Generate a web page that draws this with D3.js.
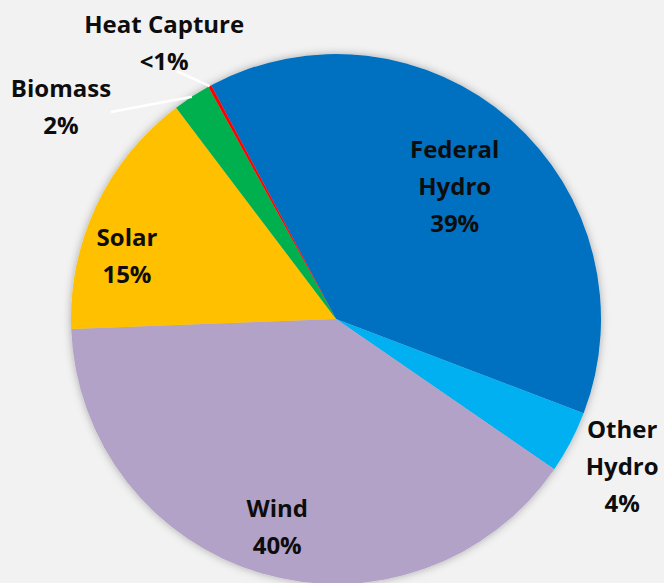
<!DOCTYPE html>
<html>
<head>
<meta charset="utf-8">
<script src="https://cdn.jsdelivr.net/npm/d3@7"></script>
<style>
  body { margin: 0; background: #f2f2f2; }
  svg { display: block; }
  .lbl { font-family: "Open Sans", sans-serif; font-weight: bold; font-size: 24px; fill: #0d0d0d; }
</style>
</head>
<body>
<div id="chart"></div>
<script>
// data, clockwise from Federal Hydro
let sources = ["Federal Hydro", "Other Hydro", "Wind", "Solar", "Biomass", "Heat Capture"];
let shares = [38.6, 3.8, 39.8, 15.3, 2.3, 0.2];
let shareLabels = ["39%", "4%", "40%", "15%", "2%", "<1%"];
let labelLines = [["Federal", "Hydro"], ["Other", "Hydro"], ["Wind"], ["Solar"], ["Biomass"], ["Heat Capture"]];
let colors = ["#0070c0", "#00b0f0", "#b3a2c7", "#ffc000", "#00b050", "#ff0000"];

let w = 664, h = 583;
let cx = 336, cy = 319, radius = 265;
let startDeg = -28.1;

// label placement: [radius factor, angle in degrees]
let labelPolar = {
    "Federal Hydro": [0.672, 41.8],
    "Other Hydro": [1.214, 117.2],
    "Wind": [0.815, 195.8],
    "Solar": [0.824, 286.8],
    "Biomass": [1.31, -52.4],
    "Heat Capture": [1.227, -31.9]
};
// leader line label-side end
let leaderPolar = {
    "Biomass": [1.154, -47.4],
    "Heat Capture": [1.112, -32.7]
};

let lineH = 37, capH = 17;

let svg = d3.select("#chart")
    .append("svg")
    .attr("width", w)
    .attr("height", h);

svg.append("rect").attr("width", w).attr("height", h).attr("fill", "#f2f2f2");

let defs = svg.append("defs");
let f = defs.append("filter").attr("id", "glow")
    .attr("x", "-10%").attr("y", "-10%").attr("width", "120%").attr("height", "120%");
f.append("feDropShadow")
    .attr("dx", 0).attr("dy", 0)
    .attr("stdDeviation", 4)
    .attr("flood-color", "#000")
    .attr("flood-opacity", 0.3);

let data = sources.map((s, i) => ({name: s, value: shares[i], pct: shareLabels[i], lines: labelLines[i], color: colors[i]}));

let rad = d => d * Math.PI / 180;
let pie = d3.pie()
    .sort(null)
    .value(d => d.value)
    .startAngle(rad(startDeg))
    .endAngle(rad(startDeg) + 2 * Math.PI);

let arc = d3.arc().innerRadius(0).outerRadius(radius);
let arcs = pie(data);

let g = svg.append("g").attr("transform", "translate(" + cx + "," + cy + ")");

g.append("g")
    .attr("filter", "url(#glow)")
    .selectAll("path")
    .data(arcs)
    .join("path")
    .attr("d", arc)
    .attr("fill", d => d.data.color);

let polar = (rf, deg) => [rf * radius * Math.sin(rad(deg)), -rf * radius * Math.cos(rad(deg))];

// leader lines
g.selectAll(".leader")
    .data(arcs.filter(d => leaderPolar[d.data.name]))
    .join("line")
    .attr("class", "leader")
    .attr("x1", d => polar(1, (d.startAngle + d.endAngle) / 2 * 180 / Math.PI)[0])
    .attr("y1", d => polar(1, (d.startAngle + d.endAngle) / 2 * 180 / Math.PI)[1])
    .attr("x2", d => polar(...leaderPolar[d.data.name])[0])
    .attr("y2", d => polar(...leaderPolar[d.data.name])[1])
    .attr("stroke", "#fff")
    .attr("stroke-width", 2.5);

// labels
let labels = g.selectAll(".lbl")
    .data(arcs)
    .join("text")
    .attr("class", "lbl")
    .attr("text-anchor", "middle")
    .each(function (d) {
        let p = polar(...labelPolar[d.data.name]);
        let lines = d.data.lines.concat([d.data.pct]);
        let y0 = p[1] - ((lines.length - 1) * lineH + capH) / 2 + capH;
        let t = d3.select(this);
        lines.forEach((ln, i) => {
            t.append("tspan")
                .attr("x", p[0])
                .attr("y", y0 + i * lineH)
                .text(ln);
        });
    });
</script>
</body>
</html>
